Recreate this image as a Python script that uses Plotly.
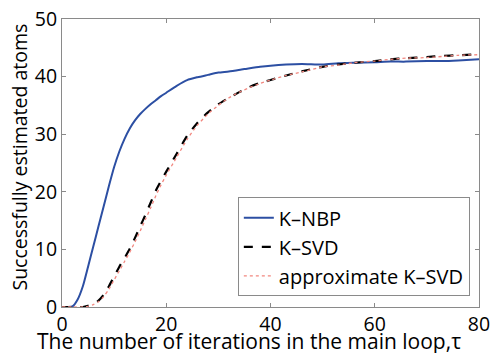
import plotly.graph_objects as go

# K-NBP
x_nbp = [0, 1, 2, 3, 4, 5, 6, 7, 8, 9, 10, 11, 12, 13, 14, 15, 16, 17, 18, 19, 20,
         22, 24, 26, 28, 30, 32, 35, 38, 40, 43, 46, 50, 53, 56, 60, 63, 66, 70, 73, 76, 80]
y_nbp = [0, 0, 0.1, 1.3, 3.6, 7, 10.5, 14, 17.5, 21, 24.3, 27.0, 29.2, 31.0, 32.4, 33.5, 34.4, 35.2, 35.9, 36.6, 37.2,
         38.4, 39.4, 39.9, 40.3, 40.7, 40.9, 41.3, 41.7, 41.9, 42.1, 42.2, 42.1, 42.3, 42.4, 42.5, 42.6, 42.6, 42.7, 42.7, 42.8, 43.0]

# K-SVD
x_svd = [0, 2, 4, 5, 6, 7, 8, 9, 10, 11, 12, 13, 14, 15, 16, 17, 18, 19, 20, 22, 24, 26, 28, 30,
         32, 34, 36, 38, 40, 43, 46, 50, 53, 56, 60, 63, 66, 70, 73, 76, 80]
y_svd = [0, 0, 0, 0.2, 0.5, 1.1, 2.1, 3.6, 5.3, 7.0, 8.5, 10.1, 12.0, 14.0, 16.0, 18.1, 20.2, 21.9, 23.5, 26.6, 29.7, 32.0, 33.8, 35.2,
         36.3, 37.3, 38.2, 38.9, 39.4, 40.2, 40.9, 41.7, 42.1, 42.4, 42.7, 43.0, 43.2, 43.4, 43.6, 43.7, 43.9]

# approximate K-SVD
x_apx = x_svd
y_apx = [0, 0, 0, 0.1, 0.4, 0.9, 1.8, 3.1, 4.7, 6.3, 7.9, 9.5, 11.3, 13.2, 15.2, 17.2, 19.3, 21.2, 22.9, 26.0, 29.1, 31.6, 33.5, 35.0,
         36.3, 37.3, 38.1, 38.8, 39.4, 40.2, 40.8, 41.7, 42.0, 42.4, 42.7, 43.0, 43.2, 43.3, 43.5, 43.7, 43.8]

x_ticks = [0, 20, 40, 60, 80]
y_ticks = [0, 10, 20, 30, 40, 50]

x_title = "The number of iterations in the main loop,\u03c4"
y_title = "Successfully estimated atoms"

FONT = "Open Sans"

fig = go.Figure()
fig.add_trace(go.Scatter(x=x_nbp, y=y_nbp, mode="lines", name="K\u2013NBP",
                         line=dict(color="#2c4fa3", width=2, shape="spline", smoothing=0.6)))
fig.add_trace(go.Scatter(x=x_svd, y=y_svd, mode="lines", name="K\u2013SVD",
                         line=dict(color="black", width=2.2, dash="dash", shape="spline", smoothing=0.6)))
fig.add_trace(go.Scatter(x=x_apx, y=y_apx, mode="lines", name="approximate K\u2013SVD",
                         line=dict(color="#f2877f", width=1.3, dash="dot", shape="spline", smoothing=0.6)))

axis_common = dict(showgrid=False, zeroline=False, showline=True, linecolor="#8a8a8a", linewidth=1,
                   mirror="allticks", ticks="inside", ticklen=4, tickcolor="#8a8a8a", automargin=False,
                   tickfont=dict(family=FONT, size=19.5, color="black"))

fig.update_layout(
    width=493, height=353,
    margin=dict(l=62, r=14, t=19, b=46, autoexpand=False),
    paper_bgcolor="white", plot_bgcolor="white",
    font=dict(family=FONT, color="black"),
    xaxis=dict(range=[0, 80], tickvals=x_ticks, **axis_common),
    yaxis=dict(range=[0, 50], tickvals=y_ticks, **axis_common),
    legend=dict(x=0.978, xanchor="right", y=0.037, yanchor="bottom",
                bgcolor="white", bordercolor="#8a8a8a", borderwidth=1,
                font=dict(family=FONT, size=20, color="black"),
                tracegroupgap=0, itemwidth=30),
    showlegend=True,
    annotations=[
        dict(text=x_title, xref="paper", yref="paper", x=0.4496, y=-0.062,
             xanchor="center", yanchor="top", showarrow=False,
             font=dict(family=FONT, size=21, color="black")),
        dict(text=y_title, xref="paper", yref="paper", x=-0.1007, y=0.519,
             xanchor="center", yanchor="middle", textangle=-90, showarrow=False,
             font=dict(family=FONT, size=19.5, color="black")),
    ],
)

fig.write_html("out.html", config={"displayModeBar": False},
               post_script="document.body.style.margin='0px';document.body.style.overflow='hidden';")
